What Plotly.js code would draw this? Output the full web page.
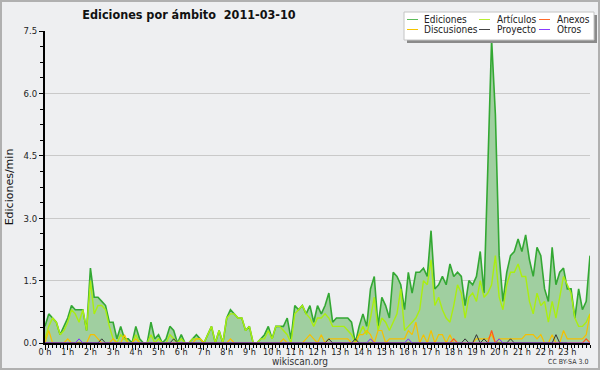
<!DOCTYPE html>
<html>
<head>
<meta charset="utf-8">
<script src="https://cdn.plot.ly/plotly-3.0.1.min.js"></script>
<style>
html,body{margin:0;padding:0;background:#eeeff1;}
#wrap{position:relative;width:600px;height:370px;overflow:hidden;}
#chart{width:600px;height:370px;}
#frame{position:absolute;left:0;top:0;width:600px;height:370px;box-sizing:border-box;border:2px solid #b0b0b0;pointer-events:none;}
</style>
</head>
<body>
<div id="wrap"><div id="chart"></div><div id="frame"></div></div>
<script>
// ---- data: edits per minute, 10-minute steps from 0:00 to 24:00 ----
const hourLabels = ["0 h","1 h","2 h","3 h","4 h","5 h","6 h","7 h","8 h","9 h","10 h","11 h",
                    "12 h","13 h","14 h","15 h","16 h","17 h","18 h","19 h","20 h","21 h","22 h","23 h"];

const ediciones = [
0.4,0.7,0.6,0.5,0.2,0.4,
0.6,0.9,0.8,0.8,0.8,0.3,
1.8,1.1,1.1,1.0,0.9,0.5,
0.5,0.1,0.4,0.1,0.1,0.0,
0.4,0.1,0.0,0.0,0.5,0.1,
0.2,0.0,0.1,0.4,0.3,0.0,
0.2,0.0,0.0,0.1,0.2,0.1,
0.0,0.2,0.4,0.0,0.3,0.0,
0.6,0.8,0.7,0.6,0.6,0.3,
0.4,0.0,0.0,0.1,0.2,0.4,
0.1,0.4,0.4,0.4,0.6,0.1,
0.9,0.8,0.9,0.7,0.9,0.5,
0.9,0.7,0.9,1.2,0.5,0.6,
0.6,0.6,0.6,0.5,0.0,0.4,
0.7,0.4,1.3,1.6,0.4,1.1,
0.9,0.6,1.7,1.6,1.4,0.8,
1.7,1.2,1.7,1.7,1.8,1.6,
2.7,1.3,1.4,1.6,1.4,1.9,
1.6,1.7,1.6,0.9,1.5,1.4,
1.6,2.2,1.2,4.2,7.3,5.5,
2.1,1.0,1.7,2.1,2.2,2.5,
2.2,2.6,2.0,1.6,2.3,2.1,
1.3,1.0,2.3,1.4,1.7,1.8,
1.3,1.3,0.6,1.3,0.8,1.0,
2.1];

const articulos = [
0.1,0.4,0.6,0.5,0.2,0.3,
0.5,0.8,0.7,0.5,0.8,0.3,
1.5,0.7,0.9,0.9,0.8,0.4,
0.1,0.0,0.2,0.1,0.0,0.0,
0.2,0.0,0.0,0.0,0.2,0.0,
0.1,0.0,0.0,0.2,0.1,0.0,
0.1,0.0,0.0,0.1,0.1,0.1,
0.0,0.2,0.4,0.0,0.3,0.0,
0.6,0.7,0.7,0.6,0.6,0.3,
0.4,0.0,0.0,0.1,0.1,0.3,
0.1,0.4,0.4,0.3,0.2,0.0,
0.7,0.8,0.9,0.7,0.6,0.4,
0.6,0.6,0.7,0.6,0.4,0.4,
0.4,0.4,0.3,0.2,0.0,0.2,
0.4,0.2,0.6,1.1,0.3,0.6,
0.5,0.3,0.5,0.7,1.3,0.3,
0.4,0.5,0.6,0.8,1.5,1.4,
2.0,0.9,1.1,0.8,0.6,0.5,
0.9,1.4,1.2,0.6,1.1,1.2,
1.0,1.5,1.1,1.2,1.4,2.1,
1.1,0.8,1.4,1.7,1.7,1.9,
1.6,1.6,1.0,0.7,1.2,0.9,
1.0,0.5,1.0,0.6,1.1,1.6,
1.4,1.2,0.6,0.4,0.4,0.5,
0.7];

const discusiones = [
0.0,0.3,0.0,0.0,0.0,0.0,
0.1,0.0,0.0,0.0,0.0,0.0,
0.2,0.2,0.1,0.0,0.0,0.0,
0.1,0.0,0.0,0.2,0.0,0.0,
0.1,0.0,0.0,0.0,0.0,0.0,
0.0,0.0,0.0,0.0,0.0,0.0,
0.0,0.0,0.0,0.0,0.1,0.1,
0.0,0.0,0.0,0.0,0.0,0.0,
0.0,0.1,0.0,0.0,0.0,0.0,
0.0,0.0,0.0,0.0,0.0,0.0,
0.0,0.0,0.0,0.1,0.0,0.0,
0.0,0.0,0.0,0.1,0.2,0.1,
0.0,0.2,0.0,0.1,0.1,0.1,
0.1,0.1,0.1,0.0,0.0,0.2,
0.2,0.3,0.2,0.0,0.3,0.3,
0.0,0.1,0.1,0.1,0.1,0.1,
0.3,0.2,0.5,0.0,0.2,0.0,
0.3,0.0,0.2,0.2,0.0,0.2,
0.0,0.0,0.0,0.0,0.0,0.0,
0.1,0.1,0.1,0.1,0.2,0.0,
0.1,0.1,0.1,0.1,0.1,0.1,
0.1,0.2,0.2,0.2,0.1,0.2,
0.0,0.0,0.2,0.0,0.0,0.3,
0.1,0.1,0.1,0.1,0.1,0.2,
0.7];

const anexos = [
0,0,0,0,0,0, 0,0,0,0,0,0, 0,0,0,0,0,0, 0,0,0,0,0,0,
0,0,0,0,0,0, 0,0,0,0,0,0, 0,0,0,0,0,0, 0,0,0,0,0,0,
0,0,0,0,0,0, 0,0,0,0,0,0, 0,0,0,0,0,0, 0,0,0,0,0,0,
0,0,0,0,0,0, 0,0,0,0,0,0, 0,0,0,0,0,0, 0,0,0,0,0,0,
0,0,0,0,0,0, 0,0,0,0,0,0,
0.1,0,0,0,0,0,
0,0,0,0,0.3,0,
0,0,0,0,0,0, 0,0,0,0,0,0, 0,0,0,0,0,0,
0,0,0,0,0,0.1,
0];

const proyecto = [
0,0,0,0,0,0, 0,0,0,0,0,0,
0,0,0,0.1,0,0,
0,0,0,0,0,0, 0,0,0,0,0,0,
0,0,0,0,0.1,0,
0,0,0,0,0,0, 0,0,0,0,0,0, 0,0,0,0,0,0, 0,0,0,0,0,0,
0,0,0,0,0,0, 0,0,0,0,0,0,
0,0,0,0.1,0,0,
0,0,0,0,0.1,0,
0,0,0,0,0,0, 0,0,0,0,0,0, 0,0,0,0,0,0, 0,0,0,0,0,0,
0,0,0,0.1,0,0,
0.2,0,0.1,0,0,0,
0,0,0,0.1,0,0,
0,0,0,0,0,0,
0,0,0,0.2,0,0,
0];

const otros = [
0,0,0,0,0,0,
0,0,0,0.1,0,0,
0,0,0,0,0,0, 0,0,0,0,0,0, 0,0,0,0,0,0, 0,0,0,0,0,0,
0,0,0,0,0,0, 0,0,0,0,0,0, 0,0,0,0,0,0, 0,0,0,0,0,0,
0,0,0,0,0,0, 0,0,0,0,0,0, 0,0,0,0,0,0,
0,0,0,0,0,0,
0,0,0.1,0,0,0,
0,0,0,0,0,0,
0.1,0,0,0,0,0,
0,0,0,0,0,0, 0,0,0,0,0,0,
0,0,0,0,0,0,
0.1,0,0,0,0,0,
0,0,0,0,0,0, 0,0,0,0,0,0, 0,0,0,0,0,0, 0,0,0,0,0,0,
0];

const seriesNames = ["Ediciones","Artículos","Anexos","Discusiones","Proyecto","Otros"];
const seriesColors = ["#5cbc5c","#b8ee33","#ff6a2a","#f5c400","#444444","#8a3cff"];

// ---- rendering ----
const FONT = "'DejaVu Sans Condensed','DejaVu Sans',sans-serif";
const times = ediciones.map((_, i) => i / 6);     // hours of day
const hourTicks = hourLabels.map((_, h) => h);

function lineTrace(y, name, color, width) {
  return {x: times, y: y, name: name, type: 'scatter', mode: 'lines',
          line: {color: color, width: width, shape: 'linear'}, hoverinfo: 'skip', showlegend: false};
}

const traces = [
  {x: times, y: ediciones, name: 'Ediciones', type: 'scatter', mode: 'lines',
   fill: 'tozeroy', fillcolor: '#a0cfa0', line: {color: '#33a833', width: 1.6},
   hoverinfo: 'skip', showlegend: false},
  lineTrace(articulos, 'Artículos', '#aaee11', 1.4),
  lineTrace(discusiones, 'Discusiones', '#f5c000', 1.2),
  lineTrace(anexos, 'Anexos', '#ff5a1a', 1.2),
  lineTrace(proyecto, 'Proyecto', '#333333', 1),
  lineTrace(otros, 'Otros', '#7a2cff', 1)
];

// plot area in pixels
const L = 45, R = 590, T = 31, B = 343;
const px = x => (x - L) / (R - L);
const py = y => (B - y) / (B - T);

const shapes = [
  {type: 'rect', xref: 'paper', yref: 'paper', x0: px(407), x1: px(597), y0: py(15), y1: py(43),
   fillcolor: '#8a8a8a', line: {width: 0}, layer: 'above'},
  {type: 'rect', xref: 'paper', yref: 'paper', x0: px(404), x1: px(594), y0: py(12), y1: py(40),
   fillcolor: '#ffffff', line: {color: '#c4c4c4', width: 1}, layer: 'above'}
];
const annotations = [];
const legCols = [[407, 418, 423], [479, 490, 496], [539, 550, 556]];
const legRows = [19.5, 29.5];
seriesNames.forEach((nm, k) => {
  const c = legCols[k % 3], r = legRows[Math.floor(k / 3)];
  shapes.push({type: 'line', xref: 'paper', yref: 'paper', x0: px(c[0]), x1: px(c[1]), y0: py(r), y1: py(r),
               line: {color: seriesColors[k], width: 1}, layer: 'above'});
  annotations.push({xref: 'paper', yref: 'paper', x: px(c[2]), y: py(r), xanchor: 'left', yanchor: 'middle',
                    text: nm, showarrow: false, borderpad: 0,
                    font: {family: FONT, size: 10, color: '#222'}});
});
annotations.push({xref: 'paper', yref: 'paper', x: px(300), y: py(361), xanchor: 'center', yanchor: 'middle',
                  text: 'wikiscan.org', showarrow: false, borderpad: 0, font: {family: FONT, size: 10, color: '#333'}});
annotations.push({xref: 'paper', yref: 'paper', x: px(568), y: py(362), xanchor: 'center', yanchor: 'middle',
                  text: 'CC BY-SA 3.0', showarrow: false, borderpad: 0, font: {family: FONT, size: 7, color: '#333'}});

const layout = {
  width: 600, height: 370,
  margin: {l: L, r: 600 - R, t: T, b: 370 - B, pad: 0},
  paper_bgcolor: '#eeeff1', plot_bgcolor: '#eeeff1',
  showlegend: false,
  title: {text: 'Ediciones por ámbito  2011-03-10', xref: 'container', yref: 'container',
          x: 189 / 600, y: 1 - 15 / 370, xanchor: 'center', yanchor: 'middle',
          font: {family: FONT, size: 12.5, weight: 700, color: '#111'}},
  xaxis: {range: [0, 24], tickmode: 'array', tickvals: hourTicks, ticktext: hourLabels,
          ticks: 'outside', ticklen: 5, tickcolor: '#000', tickwidth: 1, ticklabelstandoff: -6,
          showline: true, linecolor: '#000', linewidth: 2, showgrid: false, zeroline: false,
          tickfont: {family: FONT, size: 9, color: '#222'}, fixedrange: true,
          minor: {tickmode: 'linear', tick0: 0, dtick: 1 / 6, ticks: 'outside', ticklen: 3,
                  tickcolor: '#000', tickwidth: 1, showgrid: false}},
  yaxis: {range: [0, 7.5], tickmode: 'linear', tick0: 0, dtick: 1.5, tickformat: '.1f',
          ticks: 'outside', ticklen: 4, tickcolor: '#000', tickwidth: 1,
          showline: true, linecolor: '#000', linewidth: 2,
          showgrid: true, gridcolor: '#c9c9c9', gridwidth: 1, zeroline: false,
          tickfont: {family: FONT, size: 9.5, color: '#222'}, fixedrange: true, automargin: false,
          minor: {tickmode: 'linear', tick0: 0, dtick: 0.375, ticks: 'outside', ticklen: 3,
                  tickcolor: '#000', tickwidth: 1, showgrid: false},
          title: {text: 'Ediciones/min', standoff: 8,
                  font: {family: "'DejaVu Sans',sans-serif", size: 11, color: '#111'}}},
  shapes: shapes,
  annotations: annotations
};

Plotly.newPlot('chart', traces, layout, {staticPlot: true, displayModeBar: false});
</script>
</body>
</html>
